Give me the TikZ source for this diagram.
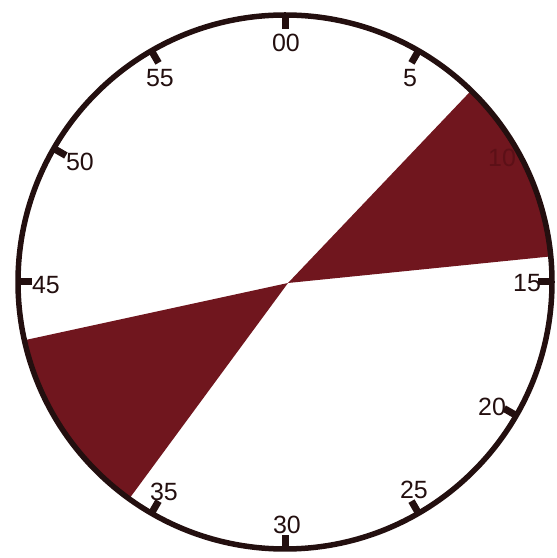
\documentclass[tikz,border=0pt]{standalone}
\usepackage{fontspec}
\setmainfont{Liberation Sans}
\usetikzlibrary{calc}
\definecolor{clockred}{RGB}{112,22,30}
\definecolor{rimcol}{RGB}{35,15,15}
\definecolor{hidden}{RGB}{92,16,23}

\begin{document}
\begin{tikzpicture}[x=0.02cm, y=0.02cm, font=\fontsize{14.2}{16}\selectfont,
  wedge/.style={fill=clockred},
  rim/.style={draw=rimcol, line width=0.11cm},
  tickmark/.style={draw=rimcol, line width=0.14cm},
  minlabel/.style={text=rimcol, inner sep=0pt}]
\useasboundingbox (0,0) rectangle (556,558);
\coordinate (C) at (285,276);
\coordinate (V) at (288,275);
% the two dark sectors
\fill[wedge] (V) -- ($(C)+(45.8:267)$) arc[start angle=45.8, end angle=5.5, radius=267] -- cycle;
\fill[wedge] (V) -- ($(C)+(192.6:267)$) arc[start angle=192.6, end angle=234.3, radius=267] -- cycle;
\draw[rim] (C) circle[radius=267];
\foreach \m in {0,5,15,20,25,30,35,45,50,55} {
    \draw[tickmark] ($(C)+({90-6*\m}:267)$) -- ($(C)+({90-6*\m}:253)$);
}
\foreach \lab/\x/\y in {00/286/515, 5/410/480, 15/527/275, 20/492/151, 25/414/68, 30/287/33, 35/164/66, 45/46/273, 50/80/396, 55/160/480} {
    \node[minlabel] (m\lab) at (\x,\y) {\lab};
}
\node[minlabel, text=hidden] (m10) at (502,400) {10};
\end{tikzpicture}
\end{document}
